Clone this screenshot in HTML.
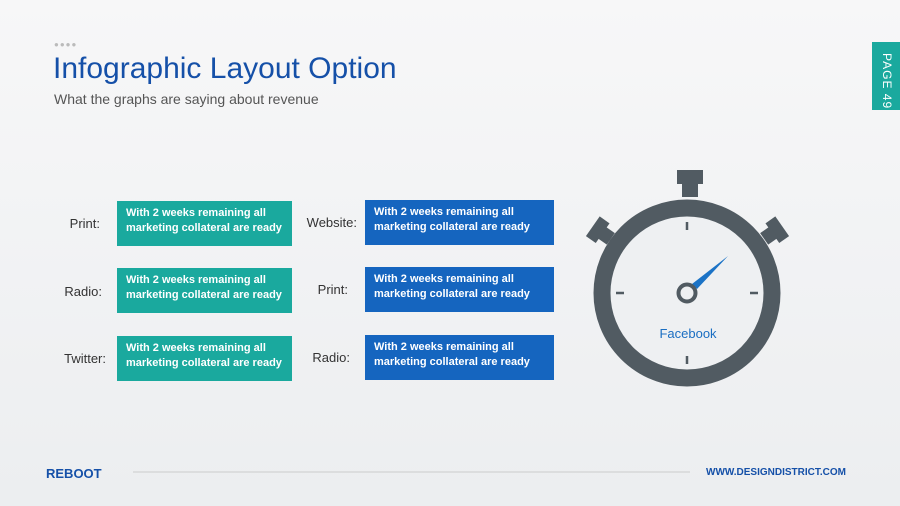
<!DOCTYPE html>
<html><head><style>
body{margin:0}
#p{position:relative;width:900px;height:506px;overflow:hidden;background:linear-gradient(180deg,#f7f7f8 0%,#eceef0 100%);font-family:"Liberation Sans",sans-serif}
.a{position:absolute}
.lbl{position:absolute;font-size:13px;color:#333;text-align:right}
.bx{position:absolute;color:#fff;font-size:11px;font-weight:bold;line-height:15px;padding:5px 0 0 9px;box-sizing:border-box}
.t{background:#1aa99e;width:175px;height:45px;left:117px}
.b{background:#1565bf;width:189px;height:45px;left:365px}
</style></head><body><div id="p">
<div class="a" style="left:54px;top:40px;font-size:8px;color:#bbb;letter-spacing:1px">●●●●</div>
<div class="a" style="left:53px;top:52px;font-size:30px;color:#1550a8">Infographic Layout Option</div>
<div class="a" style="left:54px;top:91px;font-size:14px;color:#555">What the graphs are saying about revenue</div>
<div class="a" style="left:872px;top:42px;width:28px;height:68px;background:#1aa99e"></div>
<div class="a" style="width:68px;transform:rotate(90deg);transform-origin:0 0;left:894px;top:53px;color:#fff;font-size:12px;letter-spacing:1px">PAGE 49</div>

<div class="lbl" style="left:40px;width:60px;top:216px">Print:</div>
<div class="lbl" style="left:40px;width:62px;top:284px">Radio:</div>
<div class="lbl" style="left:40px;width:66px;top:351px">Twitter:</div>
<div class="lbl" style="left:290px;width:67px;top:215px">Website:</div>
<div class="lbl" style="left:290px;width:58px;top:282px">Print:</div>
<div class="lbl" style="left:290px;width:60px;top:350px">Radio:</div>

<div class="bx t" style="top:201px">With 2 weeks remaining all<br>marketing collateral are ready</div>
<div class="bx t" style="top:268px">With 2 weeks remaining all<br>marketing collateral are ready</div>
<div class="bx t" style="top:336px">With 2 weeks remaining all<br>marketing collateral are ready</div>
<div class="bx b" style="top:200px">With 2 weeks remaining all<br>marketing collateral are ready</div>
<div class="bx b" style="top:267px">With 2 weeks remaining all<br>marketing collateral are ready</div>
<div class="bx b" style="top:335px">With 2 weeks remaining all<br>marketing collateral are ready</div>

<svg class="a" style="left:0;top:0" width="900" height="506">
<g fill="#515b62">
<rect x="677" y="170" width="26" height="14"/><rect x="682" y="183" width="16" height="14"/>
<g transform="rotate(-55 601 232)"><rect x="589" y="222" width="24" height="12"/><rect x="594" y="232" width="14" height="12"/></g>
<g transform="rotate(55 774 232)"><rect x="762" y="222" width="24" height="12"/><rect x="767" y="232" width="14" height="12"/></g>
</g>
<circle cx="687" cy="293" r="85" fill="#eef0f2" stroke="#515b62" stroke-width="17"/>
<g stroke="#515b62" stroke-width="2.5">
<line x1="687" y1="222" x2="687" y2="230"/><line x1="687" y1="356" x2="687" y2="364"/>
<line x1="616" y1="293" x2="624" y2="293"/><line x1="750" y1="293" x2="758" y2="293"/>
</g>
<polygon points="728,256 692,284 697,289" fill="#1b73c6"/>
<circle cx="687" cy="293" r="8.5" fill="#eef0f2" stroke="#515b62" stroke-width="4"/>
<text x="688" y="338" text-anchor="middle" font-family="Liberation Sans" font-size="13" fill="#1a6ec2">Facebook</text>
<line x1="133" y1="472" x2="690" y2="472" stroke="#ccc" stroke-width="1"/>
<text x="46" y="478" font-family="Liberation Sans" font-size="13" font-weight="bold" fill="#1550a8">REBOOT</text>
<text x="846" y="475" text-anchor="end" font-family="Liberation Sans" font-size="10" font-weight="bold" fill="#1550a8">WWW.DESIGNDISTRICT.COM</text>
</svg>
</div></body></html>
